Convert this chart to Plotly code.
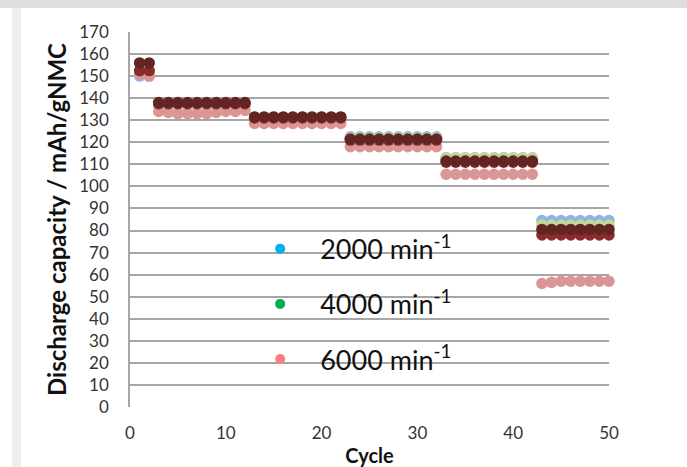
import plotly.graph_objects as go

# Cycle numbers and discharge capacities (mAh/gNMC) for each rotation speed
cycles = list(range(1, 51))

cap_2000 = [150, 150] + [136.5] * 10 + [131] * 10 + [122.5] * 10 + [113] * 10 + [84.5] * 8
cap_4000 = [151, 151] + [137] * 10 + [131.5] * 10 + [122] * 10 + [113] * 10 + [82.5] * 8
cap_6000 = ([151, 150]
            + [134, 133.5, 133, 133, 133, 133, 133.5, 134, 134, 134.5]
            + [128.5] * 10 + [118] * 10 + [105.5] * 10
            + [56, 56.5, 57, 57, 57, 57, 57, 57])
cap_8000 = [152.5, 152.5] + [137.5] * 10 + [131] * 10 + [121] * 10 + [111] * 10 + [78] * 8
cap_10000 = [156, 156] + [138] * 10 + [131.5] * 10 + [121.5] * 10 + [111.5] * 10 + [80.5] * 8

legend_labels = ["2000 min<sup>-1</sup>", "4000 min<sup>-1</sup>", "6000 min<sup>-1</sup>"]
legend_colors = ["#00b0f0", "#00b050", "#ff7c80"]

y_ticks = list(range(0, 171, 10))
x_ticks = list(range(0, 51, 10))

FONT = "Lato"

fig = go.Figure()

series = [
    (cap_2000, "#8db4e2"),
    (cap_4000, "#c3d69b"),
    (cap_6000, "#d99694"),
    (cap_8000, "#8c2b2b"),
    (cap_10000, "#632523"),
]
for vals, col in series:
    fig.add_trace(go.Scatter(
        x=cycles, y=vals, mode="markers", cliponaxis=False,
        marker=dict(size=11.5, color=col, line=dict(width=0)),
        showlegend=False, hoverinfo="x+y",
    ))

# legend entries
for i, (lab, col) in enumerate(zip(legend_labels, legend_colors)):
    fig.add_trace(go.Scatter(
        x=[None], y=[None], mode="markers", name=lab,
        marker=dict(size=10, color=col),
        legendgroup=f"g{i}", showlegend=True,
    ))

grid = "#a6a6a6"
fig.update_layout(
    width=687, height=467,
    margin=dict(l=130, r=78, t=32, b=60),
    paper_bgcolor="white", plot_bgcolor="white",
    font=dict(family=FONT, color="#333333", size=14),
    showlegend=True,
    legend=dict(
        x=0.23, y=0.486, xanchor="left", yanchor="top",
        bgcolor="rgba(0,0,0,0)",
        font=dict(family=FONT, size=27, color="#111111"),
        itemsizing="trace", itemwidth=70, tracegroupgap=17,
    ),
    xaxis=dict(
        range=[0, 50], tickvals=x_ticks, showgrid=False, zeroline=False,
        showline=False, ticks="", ticklabelstandoff=14, automargin=False,
        tickfont=dict(size=17, color="#333333"),
        title=dict(text="<b>Cycle</b>", font=dict(size=20, color="#111111"), standoff=6),
    ),
    yaxis=dict(
        range=[0, 170], tickvals=y_ticks, showgrid=True, gridcolor=grid, gridwidth=1.5,
        zeroline=False, showline=True, linecolor=grid, linewidth=1.5, automargin=False,
        ticks="", ticklabelstandoff=16, tickfont=dict(size=17, color="#333333"),
        title=dict(text="<b>Discharge capacity / mAh/gNMC</b>",
                   font=dict(size=24, color="#111111"), standoff=6),
    ),
    shapes=[
        dict(type="rect", xref="paper", yref="paper", x0=-0.30, x1=1.2,
             y0=1.064, y1=1.09, fillcolor="#dedede", line=dict(width=0), layer="below"),
        dict(type="rect", xref="paper", yref="paper", x0=-0.2463, x1=-0.2276,
             y0=-0.2, y1=1.064, fillcolor="#eeeeee", line=dict(width=0), layer="below"),
    ],
)

fig.write_html("out.html")
